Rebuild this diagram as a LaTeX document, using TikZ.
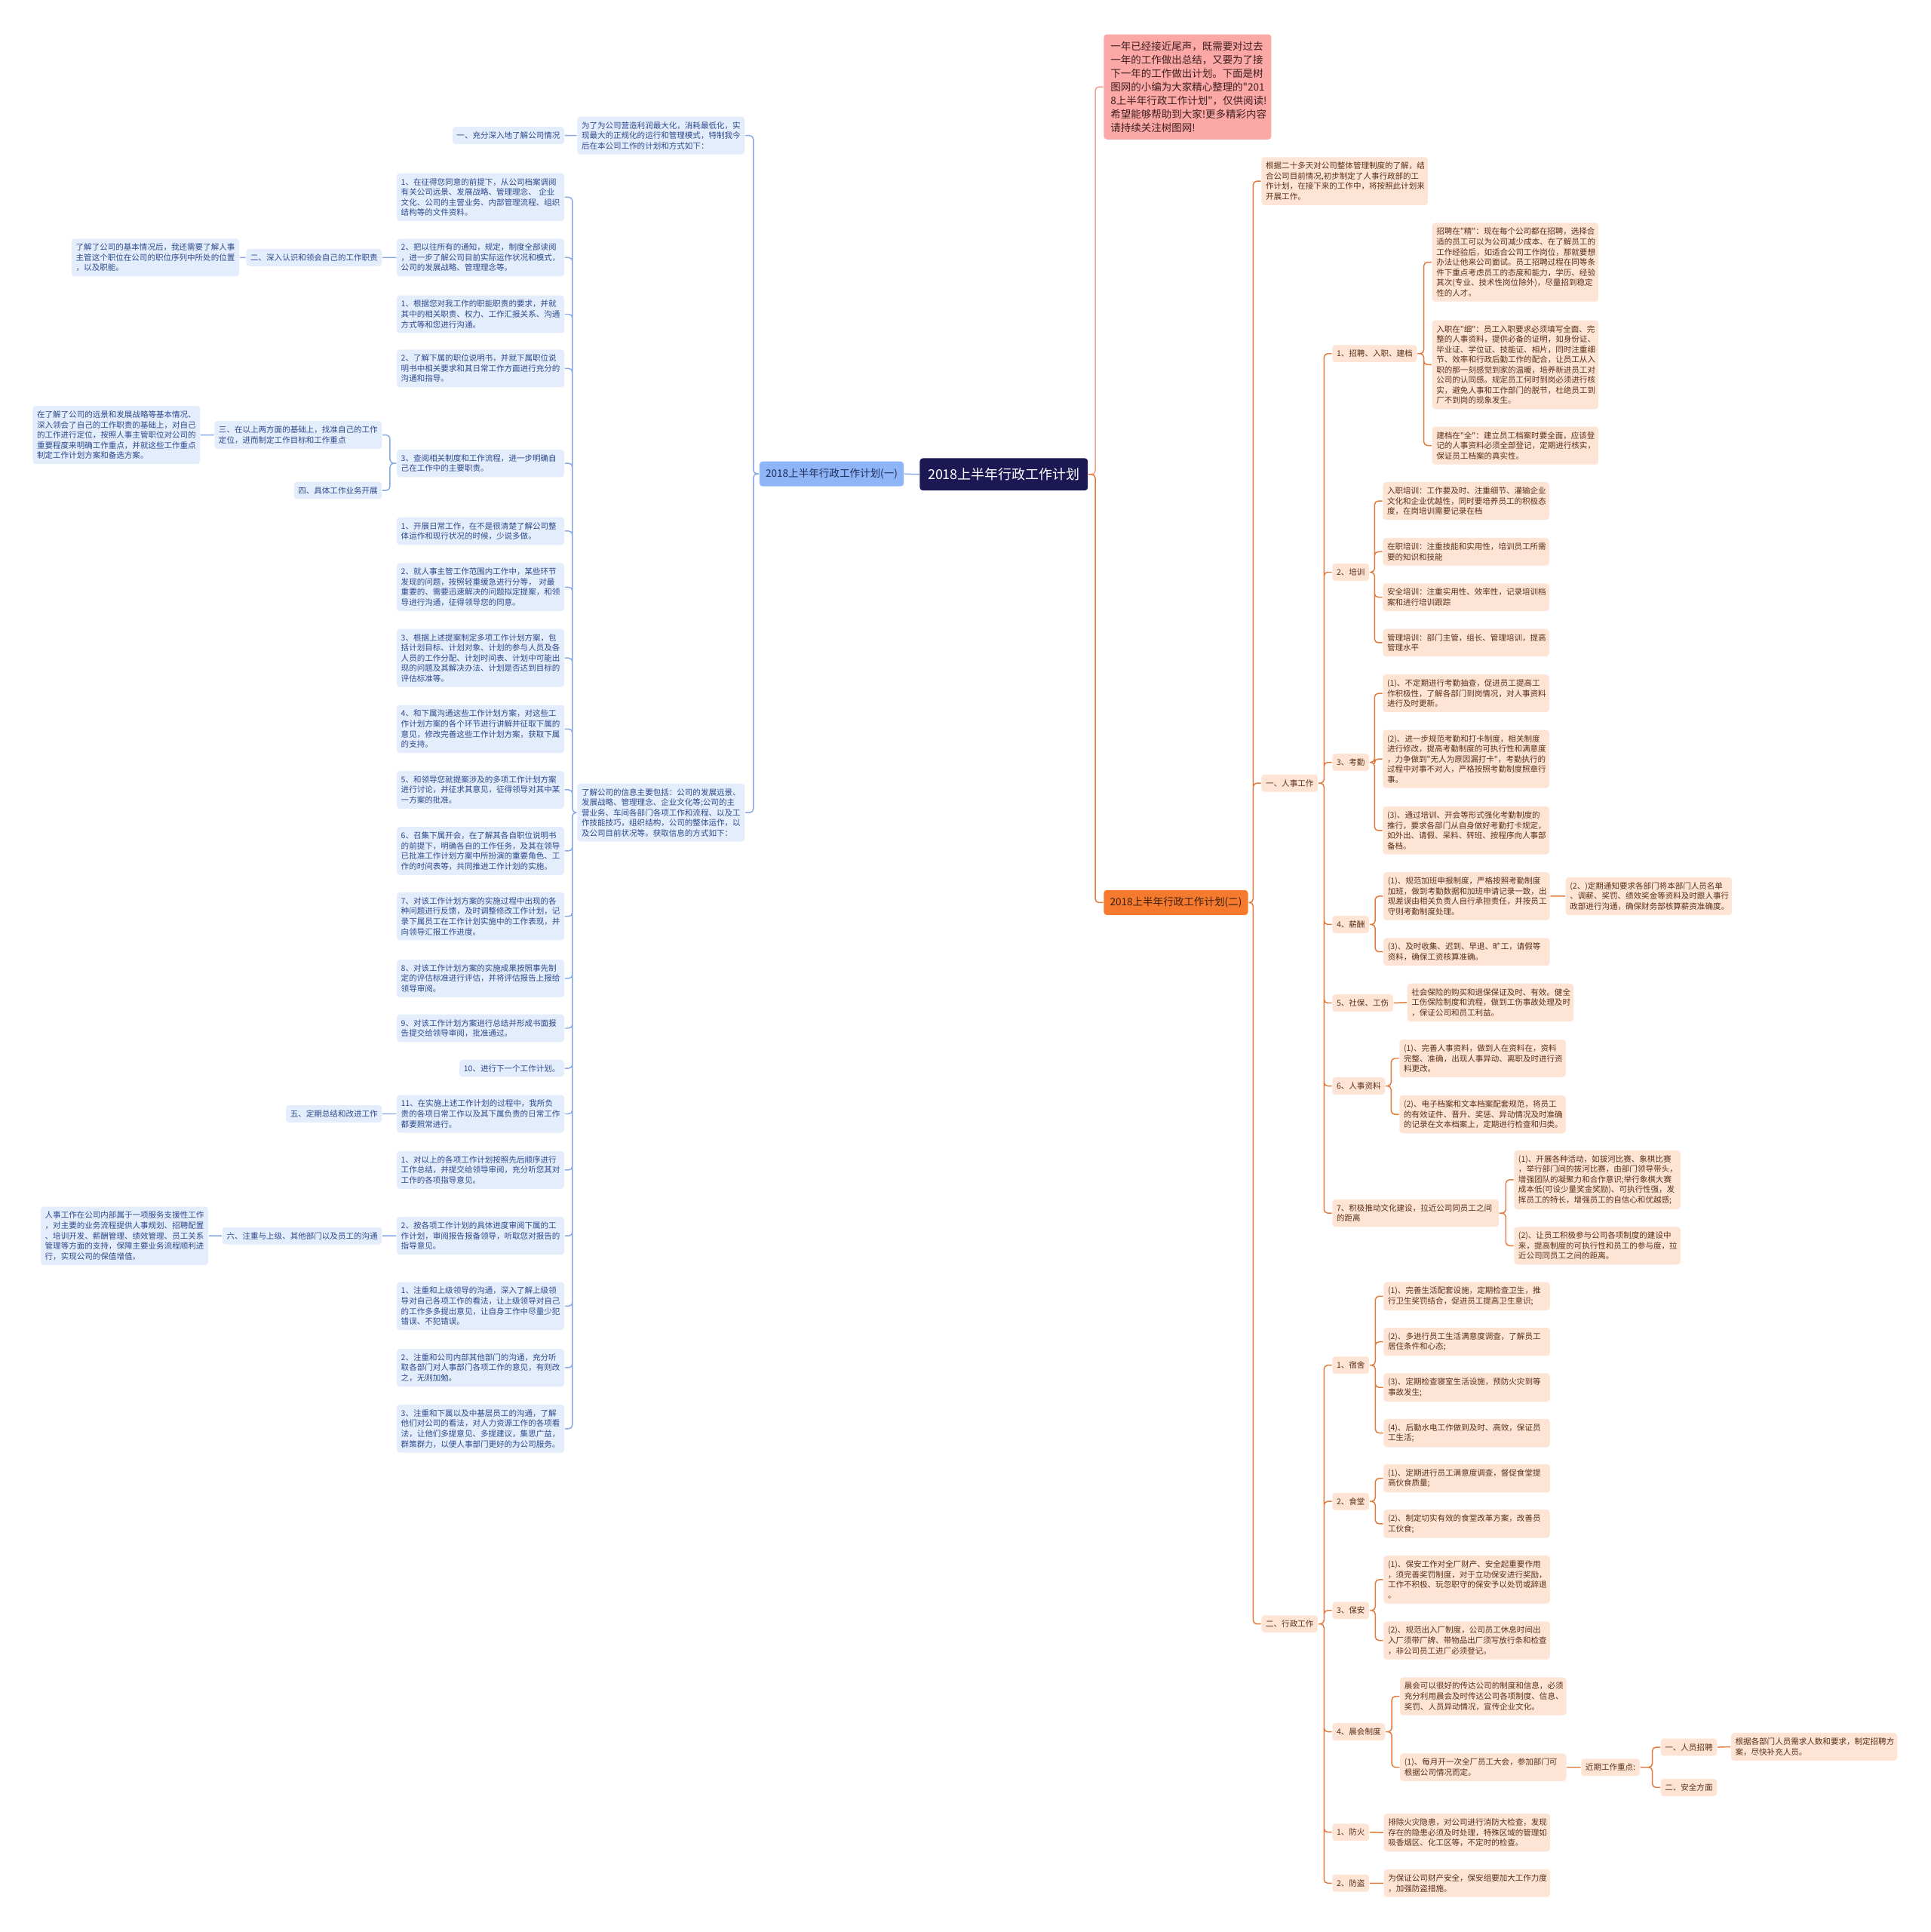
\documentclass[tikz,border=0pt]{standalone}
\usepackage{fontspec}
\usepackage{tikz}
\newfontfamily\cjk{Noto Sans CJK SC}
\definecolor{rootbg}{HTML}{1B1853}
\definecolor{lpart}{HTML}{8DB5F8}
\definecolor{lparttext}{HTML}{1F2D55}
\definecolor{lfill}{HTML}{E4EDFC}
\definecolor{ltext}{HTML}{2D4A8C}
\definecolor{lcol}{HTML}{86A9E6}
\definecolor{rpart}{HTML}{F57A2E}
\definecolor{rparttext}{HTML}{3A1E0E}
\definecolor{rfill}{HTML}{FDE4D5}
\definecolor{rtext}{HTML}{5A3018}
\definecolor{rcol}{HTML}{E27A3B}
\definecolor{notebg}{HTML}{FBA8A6}
\definecolor{notetext}{HTML}{3E2020}
\definecolor{ncol}{HTML}{F2A08E}

\begin{document}
\begin{tikzpicture}[x=1pt, y=-1pt, line width=0.9pt,
    base/.style={font=\cjk\fontsize{6.45}{8.3}\selectfont, rounded corners=2.5pt,
                 inner xsep=3.5pt, inner ysep=4pt, align=left},
    lbox/.style={base, fill=lfill, text=ltext, text width=129pt, anchor=east},
    llab/.style={base, fill=lfill, text=ltext, anchor=east},
    rbox/.style={base, fill=rfill, text=rtext, text width=128pt, anchor=west},
    rlab/.style={base, fill=rfill, text=rtext, anchor=west},
    lline/.style={draw=lcol, rounded corners=3pt},
    rline/.style={draw=rcol, rounded corners=3pt},
    nline/.style={draw=ncol, rounded corners=3pt}]
  \useasboundingbox (0,0) rectangle (1567,1568);

  \node[fill=rootbg, text=white, font=\cjk\fontsize{11}{13}\selectfont, rounded corners=2.5pt,
        inner xsep=6.5pt, inner ysep=8pt](Root) at (814.8, 385) {2018上半年行政工作计划};

  % left half
  \node[fill=lpart, text=lparttext, font=\cjk\fontsize{8.3}{10}\selectfont, rounded corners=2.5pt,
        inner xsep=5pt, inner ysep=5.8pt, anchor=east](Part1) at (734, 384.6) {2018上半年行政工作计划(一)};
    \node[lbox](Text11) at (605, 110) {为了为公司营造利润最大化，消耗最低化，实\\现最大的正规化的运行和管理模式，特制我今\\后在本公司工作的计划和方式如下：};
      \node[llab](Head111) at (458.5, 110) {一、充分深入地了解公司情况};
    \node[lbox](Text12) at (605, 659.5) {了解公司的信息主要包括：公司的发展远景、\\发展战略、管理理念、企业文化等;公司的主\\营业务、车间各部门各项工作和流程、以及工\\作技能技巧，组织结构，公司的整体运作，以\\及公司目前状况等。获取信息的方式如下：};
      \node[lbox](Item1201) at (458.5, 160) {1、在征得您同意的前提下，从公司档案调阅\\有关公司远景、发展战略、管理理念、 企业\\文化、公司的主营业务、内部管理流程、组织\\结构等的文件资料。};
      \node[lbox](Item1202) at (458.5, 209) {2、把以往所有的通知，规定，制度全部读阅\\，进一步了解公司目前实际运作状况和模式，\\公司的发展战略、管理理念等。};
        \node[llab](Head12021) at (310.5, 209) {二、深入认识和领会自己的工作职责};
          \node[lbox](Text120211) at (194.6, 209) {了解了公司的基本情况后，我还需要了解人事\\主管这个职位在公司的职位序列中所处的位置\\，以及职能。};
      \node[lbox](Item1203) at (458.5, 255) {1、根据您对我工作的职能职责的要求，并就\\其中的相关职责、权力、工作汇报关系、沟通\\方式等和您进行沟通。};
      \node[lbox](Item1204) at (458.5, 299) {2、了解下属的职位说明书，并就下属职位说\\明书中相关要求和其日常工作方面进行充分的\\沟通和指导。};
      \node[lbox](Item1205) at (458.5, 376) {3、查阅相关制度和工作流程，进一步明确自\\己在工作中的主要职责。};
        \node[lbox](Head12051) at (310.5, 353) {三、在以上两方面的基础上，找准自己的工作\\定位，进而制定工作目标和工作重点};
          \node[lbox](Text120511) at (163, 353) {在了解了公司的远景和发展战略等基本情况、\\深入领会了自己的工作职责的基础上，对自己\\的工作进行定位，按照人事主管职位对公司的\\重要程度来明确工作重点，并就这些工作重点\\制定工作计划方案和备选方案。};
        \node[llab](Head12052) at (310.5, 398) {四、具体工作业务开展};
      \node[lbox](Item1206) at (458.5, 431) {1、开展日常工作，在不是很清楚了解公司整\\体运作和现行状况的时候，少说多做。};
      \node[lbox](Item1207) at (458.5, 476.5) {2、就人事主管工作范围内工作中，某些环节\\发现的问题，按照轻重缓急进行分等， 对最\\重要的、需要迅速解决的问题拟定提案，和领\\导进行沟通，征得领导您的同意。};
      \node[lbox](Item1208) at (458.5, 534) {3、根据上述提案制定多项工作计划方案，包\\括计划目标、计划对象、计划的参与人员及各\\人员的工作分配、计划时间表、计划中可能出\\现的问题及其解决办法、计划是否达到目标的\\评估标准等。};
      \node[lbox](Item1209) at (458.5, 591.6) {4、和下属沟通这些工作计划方案，对这些工\\作计划方案的各个环节进行讲解并征取下属的\\意见，修改完善这些工作计划方案，获取下属\\的支持。};
      \node[lbox](Item1210) at (458.5, 641) {5、和领导您就提案涉及的多项工作计划方案\\进行讨论，并征求其意见，征得领导对其中某\\一方案的批准。};
      \node[lbox](Item1211) at (458.5, 690.6) {6、召集下属开会，在了解其各自职位说明书\\的前提下，明确各自的工作任务，及其在领导\\已批准工作计划方案中所扮演的重要角色、工\\作的时间表等，共同推进工作计划的实施。};
      \node[lbox](Item1212) at (458.5, 743.7) {7、对该工作计划方案的实施过程中出现的各\\种问题进行反馈，及时调整修改工作计划，记\\录下属员工在工作计划实施中的工作表现，并\\向领导汇报工作进度。};
      \node[lbox](Item1213) at (458.5, 794) {8、对该工作计划方案的实施成果按照事先制\\定的评估标准进行评估，并将评估报告上报给\\领导审阅。};
      \node[lbox](Item1214) at (458.5, 834.5) {9、对该工作计划方案进行总结并形成书面报\\告提交给领导审阅，批准通过。};
      \node[llab](Item1215) at (458.5, 867) {10、进行下一个工作计划。};
      \node[lbox](Item1216) at (458.5, 904) {11、在实施上述工作计划的过程中，我所负\\责的各项日常工作以及其下属负责的日常工作\\都要照常进行。};
        \node[llab](Head12161) at (310.5, 904) {五、定期总结和改进工作};
      \node[lbox](Item1217) at (458.5, 949.5) {1、对以上的各项工作计划按照先后顺序进行\\工作总结，并提交给领导审阅，充分听您其对\\工作的各项指导意见。};
      \node[lbox](Item1218) at (458.5, 1003) {2、按各项工作计划的具体进度审阅下属的工\\作计划，审阅报告报备领导，听取您对报告的\\指导意见。};
        \node[llab](Head12181) at (310.5, 1003) {六、注重与上级、其他部门以及员工的沟通};
          \node[lbox](Text121811) at (169.5, 1003) {人事工作在公司内部属于一项服务支援性工作\\，对主要的业务流程提供人事规划、招聘配置\\、培训开发、薪酬管理、绩效管理、员工关系\\管理等方面的支持，保障主要业务流程顺利进\\行，实现公司的保值增值。};
      \node[lbox](Item1219) at (458.5, 1060) {1、注重和上级领导的沟通，深入了解上级领\\导对自己各项工作的看法，让上级领导对自己\\的工作多多提出意见，让自身工作中尽量少犯\\错误、不犯错误。};
      \node[lbox](Item1220) at (458.5, 1110) {2、注重和公司内部其他部门的沟通，充分听\\取各部门对人事部门各项工作的意见，有则改\\之，无则加勉。};
      \node[lbox](Item1221) at (458.5, 1159.5) {3、注重和下属以及中基层员工的沟通，了解\\他们对公司的看法，对人力资源工作的各项看\\法，让他们多提意见、多提建议，集思广益，\\群策群力，以便人事部门更好的为公司服务。};

  \draw[lline] (Part1.east) -- (Root.west)
               (Text11.east) -- ++(6.5,0) |- (Part1.west)
               (Text12.east) -- ++(6.5,0) |- (Part1.west)
               (Head111.east) -- (Text11.west)
               (Item1201.east) -- ++(6.1,0) |- (Text12.west)  (Item1202.east) -- ++(6.1,0) |- (Text12.west)
               (Item1203.east) -- ++(6.1,0) |- (Text12.west)  (Item1204.east) -- ++(6.1,0) |- (Text12.west)
               (Item1205.east) -- ++(6.1,0) |- (Text12.west)  (Item1206.east) -- ++(6.1,0) |- (Text12.west)
               (Item1207.east) -- ++(6.1,0) |- (Text12.west)  (Item1208.east) -- ++(6.1,0) |- (Text12.west)
               (Item1209.east) -- ++(6.1,0) |- (Text12.west)  (Item1210.east) -- ++(6.1,0) |- (Text12.west)
               (Item1211.east) -- ++(6.1,0) |- (Text12.west)  (Item1212.east) -- ++(6.1,0) |- (Text12.west)
               (Item1213.east) -- ++(6.1,0) |- (Text12.west)  (Item1214.east) -- ++(6.1,0) |- (Text12.west)
               (Item1215.east) -- ++(6.1,0) |- (Text12.west)  (Item1216.east) -- ++(6.1,0) |- (Text12.west)
               (Item1217.east) -- ++(6.1,0) |- (Text12.west)  (Item1218.east) -- ++(6.1,0) |- (Text12.west)
               (Item1219.east) -- ++(6.1,0) |- (Text12.west)  (Item1220.east) -- ++(6.1,0) |- (Text12.west)
               (Item1221.east) -- ++(6.1,0) |- (Text12.west)
               (Head12021.east) -- (Item1202.west)  (Text120211.east) -- (Head12021.west)
               (Head12051.east) -- ++(6,0) |- (Item1205.west)  (Head12052.east) -- ++(6,0) |- (Item1205.west)
               (Text120511.east) -- (Head12051.west)
               (Head12161.east) -- (Item1216.west)
               (Head12181.east) -- (Item1218.west)  (Text121811.east) -- (Head12181.west);

  % right half
  \node[fill=notebg, text=notetext, font=\cjk\fontsize{8.26}{11}\selectfont, rounded corners=2.5pt,
        text width=125pt, align=left, inner xsep=5.5pt, inner ysep=5.8pt, anchor=west](Note0) at (895.5, 70.5)
        {一年已经接近尾声，既需要对过去\\一年的工作做出总结，又要为了接\\下一年的工作做出计划。下面是树\\图网的小编为大家精心整理的"201\\8上半年行政工作计划"，仅供阅读!\\希望能够帮助到大家!更多精彩内容\\请持续关注树图网!};
  \node[fill=rpart, text=rparttext, font=\cjk\fontsize{8.3}{10}\selectfont, rounded corners=2.5pt,
        inner xsep=5pt, inner ysep=5.8pt, anchor=west](Part2) at (895.5, 732.5) {2018上半年行政工作计划(二)};
    \node[rbox](Text21) at (1023.5, 147) {根据二十多天对公司整体管理制度的了解，结\\合公司目前情况,初步制定了人事行政部的工\\作计划，在接下来的工作中，将按照此计划来\\开展工作。};
    \node[rlab](Head22) at (1023.5, 635.6) {一、人事工作};
      \node[rlab](Sub221) at (1081, 287) {1、招聘、入职、建档};
        \node[rbox](Text2211) at (1162, 212.8) {招聘在"精"：现在每个公司都在招聘，选择合\\适的员工可以为公司减少成本、在了解员工的\\工作经验后，如适合公司工作岗位，那就要想\\办法让他来公司面试。员工招聘过程在同等条\\件下重点考虑员工的态度和能力，学历、经验\\其次(专业、技术性岗位除外)，尽量招到稳定\\性的人才。};
        \node[rbox](Text2212) at (1162, 296) {入职在"细"：员工入职要求必须填写全面、完\\整的人事资料，提供必备的证明，如身份证、\\毕业证、学位证、技能证、相片，同时注重细\\节、效率和行政后勤工作的配合，让员工从入\\职的那一刻感觉到家的温暖，培养新进员工对\\公司的认同感。规定员工何时到岗必须进行核\\实，避免人事和工作部门的脱节，杜绝员工到\\厂不到岗的现象发生。};
        \node[rbox](Text2213) at (1162, 361.6) {建档在"全"：建立员工档案时要全面，应该登\\记的人事资料必须全部登记，定期进行核实，\\保证员工档案的真实性。};
      \node[rlab](Sub222) at (1081, 464.4) {2、培训};
        \node[rbox](Text2221) at (1122, 406.6) {入职培训：工作要及时、注重细节、灌输企业\\文化和企业优越性，同时要培养员工的积极态\\度，在岗培训需要记录在档};
        \node[rbox](Text2222) at (1122, 447.8) {在职培训：注重技能和实用性，培训员工所需\\要的知识和技能};
        \node[rbox](Text2223) at (1122, 484.7) {安全培训：注重实用性、效率性，记录培训档\\案和进行培训跟踪};
        \node[rbox](Text2224) at (1122, 521.6) {管理培训：部门主管，组长、管理培训，提高\\管理水平};
      \node[rlab](Sub223) at (1081, 618.7) {3、考勤};
        \node[rbox](Text2231) at (1122, 562.8) {(1)、不定期进行考勤抽查，促进员工提高工\\作积极性，了解各部门到岗情况，对人事资料\\进行及时更新。};
        \node[rbox](Text2232) at (1122, 616) {(2)、进一步规范考勤和打卡制度，相关制度\\进行修改，提高考勤制度的可执行性和满意度\\，力争做到"无人为原因漏打卡"，考勤执行的\\过程中对事不对人，严格按照考勤制度照章行\\事。};
        \node[rbox](Text2233) at (1122, 674) {(3)、通过培训、开会等形式强化考勤制度的\\推行，要求各部门从自身做好考勤打卡规定，\\如外出、请假、呆料、转班、按程序向人事部\\备档。};
      \node[rlab](Sub224) at (1081, 750.3) {4、薪酬};
        \node[rbox](Text2241) at (1122.5, 727.3) {(1)、规范加班申报制度，严格按照考勤制度\\加班，做到考勤数据和加班申请记录一致，出\\现差误由相关负责人自行承担责任，并按员工\\守则考勤制度处理。};
          \node[rbox](Text22411) at (1270.4, 727.3) {(2、)定期通知要求各部门将本部门人员名单\\、调薪、奖罚、绩效奖金等资料及时跟人事行\\政部进行沟通，确保财务部核算薪资准确度。};
        \node[rbox](Text2242) at (1122.5, 772.5) {(3)、及时收集、迟到、早退、旷工，请假等\\资料，确保工资核算准确。};
      \node[rlab](Sub225) at (1081, 814) {5、社保、工伤};
        \node[rbox](Text2251) at (1141.8, 813.6) {社会保险的购买和退保保证及时、有效。健全\\工伤保险制度和流程，做到工伤事故处理及时\\，保证公司和员工利益。};
      \node[rlab](Sub226) at (1081, 881.4) {6、人事资料};
        \node[rbox](Text2261) at (1135.5, 859) {(1)、完善人事资料，做到人在资料在，资料\\完整、准确，出现人事异动、离职及时进行资\\料更改。};
        \node[rbox](Text2262) at (1135.5, 904.4) {(2)、电子档案和文本档案配套规范，将员工\\的有效证件、晋升、奖惩、异动情况及时准确\\的记录在文本档案上，定期进行检查和归类。};
      \node[rbox](Sub227) at (1081, 984.6) {7、积极推动文化建设，拉近公司同员工之间\\的距离};
        \node[rbox](Text2271) at (1228.5, 957.5) {(1)、开展各种活动，如拔河比赛、象棋比赛\\，举行部门间的拔河比赛，由部门领导带头，\\增强团队的凝聚力和合作意识;举行象棋大赛\\成本低(可设少量奖金奖励)、可执行性强，发\\挥员工的特长，增强员工的自信心和优越感;};
        \node[rbox](Text2272) at (1228.5, 1011) {(2)、让员工积极参与公司各项制度的建设中\\来，提高制度的可执行性和员工的参与度，拉\\近公司同员工之间的距离。};
    \node[rlab](Head23) at (1023.5, 1318) {二、行政工作};
      \node[rlab](Sub231) at (1081, 1108) {1、宿舍};
        \node[rbox](Text2311) at (1122.6, 1052) {(1)、完善生活配套设施，定期检查卫生，推\\行卫生奖罚结合，促进员工提高卫生意识;};
        \node[rbox](Text2312) at (1122.6, 1089) {(2)、多进行员工生活满意度调查，了解员工\\居住条件和心态;};
        \node[rbox](Text2313) at (1122.6, 1126) {(3)、定期检查寝室生活设施，预防火灾到等\\事故发生;};
        \node[rbox](Text2314) at (1122.6, 1163) {(4)、后勤水电工作做到及时、高效，保证员\\工生活;};
      \node[rlab](Sub232) at (1081, 1218.5) {2、食堂};
        \node[rbox](Text2321) at (1122.6, 1199.8) {(1)、定期进行员工满意度调查，督促食堂提\\高伙食质量;};
        \node[rbox](Text2322) at (1122.6, 1236.7) {(2)、制定切实有效的食堂改革方案，改善员\\工伙食;};
      \node[rlab](Sub233) at (1081, 1307) {3、保安};
        \node[rbox](Text2331) at (1122.6, 1282) {(1)、保安工作对全厂财产、安全起重要作用\\，须完善奖罚制度，对于立功保安进行奖励，\\工作不积极、玩忽职守的保安予以处罚或辞退\\。};
        \node[rbox](Text2332) at (1122.6, 1331.4) {(2)、规范出入厂制度，公司员工休息时间出\\入厂须带厂牌、带物品出厂须写放行条和检查\\，非公司员工进厂必须登记。};
      \node[rlab](Sub234) at (1081, 1405.5) {4、晨会制度};
        \node[rbox](Text2341) at (1136, 1376.7) {晨会可以很好的传达公司的制度和信息，必须\\充分利用晨会及时传达公司各项制度、信息、\\奖罚、人员异动情况，宣传企业文化。};
        \node[rbox](Text2342) at (1136, 1434.3) {(1)、每月开一次全厂员工大会，参加部门可\\根据公司情况而定。};
          \node[rlab](Key23421) at (1283, 1434.3) {近期工作重点:};
            \node[rlab](Sub234211) at (1347.5, 1418) {一、人员招聘};
              \node[rbox](Text2342111) at (1404.6, 1417.7) {根据各部门人员需求人数和要求，制定招聘方\\案，尽快补充人员。};
            \node[rlab](Sub234212) at (1347.5, 1450.7) {二、安全方面};
      \node[rlab](Sub235) at (1081, 1487) {1、防火};
        \node[rbox](Text2351) at (1122.8, 1487.3) {排除火灾隐患，对公司进行消防大检查，发现\\存在的隐患必须及时处理，特殊区域的管理如\\吸香烟区、化工区等，不定时的检查。};
      \node[rlab](Sub236) at (1081, 1528.4) {2、防盗};
        \node[rbox](Text2361) at (1122.8, 1528.4) {为保证公司财产安全，保安组要加大工作力度\\，加强防盗措施。};

  \draw[nline] (Note0.west) -- ++(-6.5,0) |- (Root.east);
  \draw[rline] (Part2.west) -- ++(-6.5,0) |- (Root.east)
               (Text21.west) -- ++(-6.3,0) |- (Part2.east)  (Head22.west) -- ++(-6.3,0) |- (Part2.east)
               (Head23.west) -- ++(-6.3,0) |- (Part2.east)
               (Sub221.west) -- ++(-6.3,0) |- (Head22.east)  (Sub222.west) -- ++(-6.3,0) |- (Head22.east)
               (Sub223.west) -- ++(-6.3,0) |- (Head22.east)  (Sub224.west) -- ++(-6.3,0) |- (Head22.east)
               (Sub225.west) -- ++(-6.3,0) |- (Head22.east)  (Sub226.west) -- ++(-6.3,0) |- (Head22.east)
               (Sub227.west) -- ++(-6.3,0) |- (Head22.east)
               (Text2211.west) -- ++(-6.3,0) |- (Sub221.east)  (Text2212.west) -- ++(-6.3,0) |- (Sub221.east)
               (Text2213.west) -- ++(-6.3,0) |- (Sub221.east)
               (Text2221.west) -- ++(-6.3,0) |- (Sub222.east)  (Text2222.west) -- ++(-6.3,0) |- (Sub222.east)
               (Text2223.west) -- ++(-6.3,0) |- (Sub222.east)  (Text2224.west) -- ++(-6.3,0) |- (Sub222.east)
               (Text2231.west) -- ++(-6.3,0) |- (Sub223.east)  (Text2232.west) -- ++(-6.3,0) |- (Sub223.east)
               (Text2233.west) -- ++(-6.3,0) |- (Sub223.east)
               (Text2241.west) -- ++(-6.3,0) |- (Sub224.east)  (Text2242.west) -- ++(-6.3,0) |- (Sub224.east)
               (Text22411.west) -- (Text2241.east)
               (Text2251.west) -- (Sub225.east)
               (Text2261.west) -- ++(-6.3,0) |- (Sub226.east)  (Text2262.west) -- ++(-6.3,0) |- (Sub226.east)
               (Text2271.west) -- ++(-6.3,0) |- (Sub227.east)  (Text2272.west) -- ++(-6.3,0) |- (Sub227.east)
               (Sub231.west) -- ++(-6.3,0) |- (Head23.east)  (Sub232.west) -- ++(-6.3,0) |- (Head23.east)
               (Sub233.west) -- ++(-6.3,0) |- (Head23.east)  (Sub234.west) -- ++(-6.3,0) |- (Head23.east)
               (Sub235.west) -- ++(-6.3,0) |- (Head23.east)  (Sub236.west) -- ++(-6.3,0) |- (Head23.east)
               (Text2311.west) -- ++(-6.3,0) |- (Sub231.east)  (Text2312.west) -- ++(-6.3,0) |- (Sub231.east)
               (Text2313.west) -- ++(-6.3,0) |- (Sub231.east)  (Text2314.west) -- ++(-6.3,0) |- (Sub231.east)
               (Text2321.west) -- ++(-6.3,0) |- (Sub232.east)  (Text2322.west) -- ++(-6.3,0) |- (Sub232.east)
               (Text2331.west) -- ++(-6.3,0) |- (Sub233.east)  (Text2332.west) -- ++(-6.3,0) |- (Sub233.east)
               (Text2341.west) -- ++(-6.3,0) |- (Sub234.east)  (Text2342.west) -- ++(-6.3,0) |- (Sub234.east)
               (Key23421.west) -- (Text2342.east)
               (Sub234211.west) -- ++(-6.3,0) |- (Key23421.east)  (Sub234212.west) -- ++(-6.3,0) |- (Key23421.east)
               (Text2342111.west) -- (Sub234211.east)
               (Text2351.west) -- (Sub235.east)
               (Text2361.west) -- (Sub236.east);
\end{tikzpicture}
\end{document}
